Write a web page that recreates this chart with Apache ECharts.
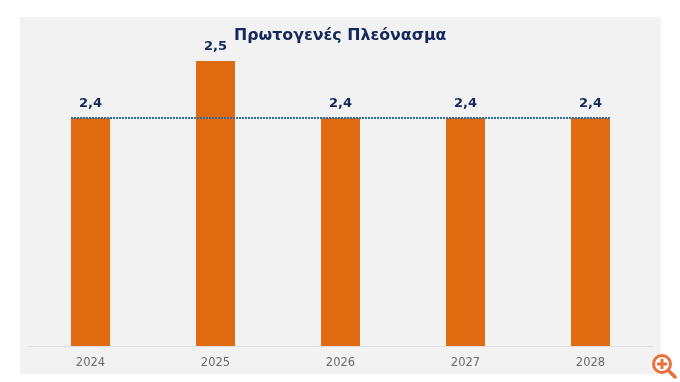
<!DOCTYPE html>
<html>
<head>
<meta charset="utf-8">
<style>html,body{margin:0;padding:0;background:#fff}#c{width:680px;height:382px}</style>
<script src="https://cdn.jsdelivr.net/npm/echarts@6/dist/echarts.min.js"></script>
</head>
<body>
<div id="c"></div>
<script>
var categories = ['2024','2025','2026','2027','2028'];
var surplus = [2.4,2.5,2.4,2.4,2.4];
var referenceLevel = [[0.344,2.4],[4.656,2.4]];
var chartTitle = 'Πρωτογενές Πλεόνασμα';
var navy = '#14285c', orange = '#e06a10';
var chart = echarts.init(document.getElementById('c'), null, {renderer:'canvas'});
chart.setOption({
  animation:false,
  backgroundColor:'#fff',
  title:{text:chartTitle,left:229,top:23,
    textStyle:{fontFamily:'DejaVu Sans',fontWeight:'bold',fontSize:15.8,color:navy}},
  graphic:[
    {type:'rect',z:-10,silent:true,shape:{x:20,y:17,width:641,height:357},style:{fill:'#f2f2f2'}},
    {type:'group',z:20,silent:true,children:[
      {type:'circle',shape:{cx:662,cy:364,r:8.5},style:{fill:'#fff',stroke:'#e8703a',lineWidth:3}},
      {type:'line',shape:{x1:668.5,y1:370.5,x2:675,y2:377},style:{stroke:'#e8703a',lineWidth:3.5,lineCap:'round'}},
      {type:'line',shape:{x1:657,y1:364,x2:667,y2:364},style:{stroke:'#e8703a',lineWidth:3}},
      {type:'line',shape:{x1:662,y1:359,x2:662,y2:369},style:{stroke:'#e8703a',lineWidth:3}}
    ]}
  ],
  grid:{left:28,right:27,top:61,bottom:36},
  xAxis:[
    {type:'category',data:categories,
     axisLine:{lineStyle:{color:'#dedede',width:1}},axisTick:{show:false},
     axisLabel:{color:'#6b6b6b',fontSize:11.5,fontFamily:'DejaVu Sans',margin:11.5}},
    {type:'value',min:0,max:5,show:false}
  ],
  yAxis:{type:'value',min:2,max:2.5,show:false,splitLine:{show:false}},
  series:[
    {type:'bar',data:surplus,barWidth:39,itemStyle:{color:orange},
     label:{show:true,position:'top',distance:7.5,color:navy,fontFamily:'DejaVu Sans',fontWeight:'bold',fontSize:13,
       formatter:function(p){return String(p.value).replace('.',',');}}},
    {type:'line',xAxisIndex:1,data:referenceLevel,symbol:'none',z:5,
     lineStyle:{color:'#2f6d9e',width:2,type:[2,1]}}
  ]
});
</script>
</body>
</html>
